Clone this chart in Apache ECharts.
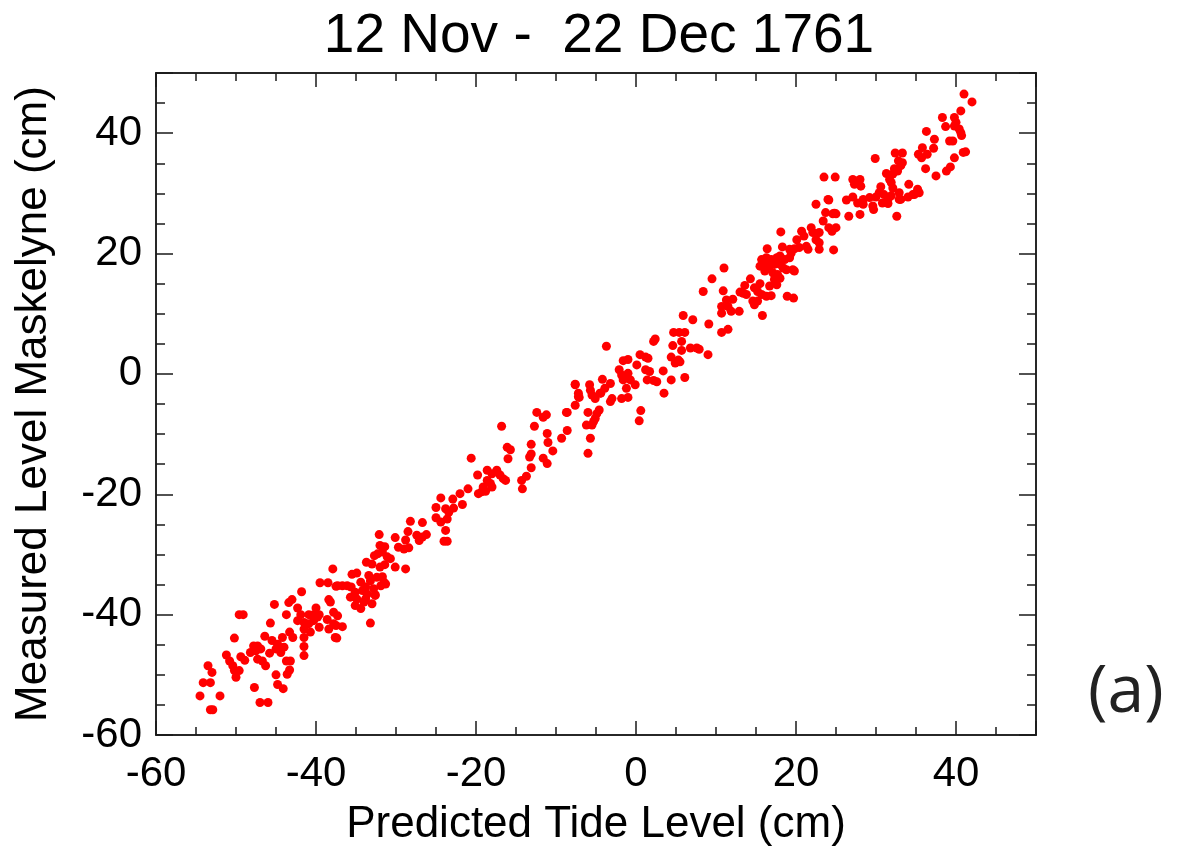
<!DOCTYPE html>
<html>
<head>
<meta charset="utf-8">
<title>12 Nov - 22 Dec 1761</title>
<script src="https://cdn.jsdelivr.net/npm/echarts@6/dist/echarts.min.js"></script>
<style>
  html, body { margin: 0; padding: 0; background: #fff; }
  #chart { width: 1188px; height: 854px; }
</style>
</head>
<body>
<div id="chart"></div>
<script>
// [predicted tide level (cm), measured level Maskelyne (cm)]
const pointsLow = [
  [-54.5,-53.5],[-53.2,-55.8],[-52.9,-55.8],[-54.1,-51.3],[-53.2,-51.3],[-53.5,-48.5],[-53.0,-49.6],[-52.0,-53.5],
  [-51.2,-46.7],[-50.8,-47.7],[-50.4,-48.5],[-50.2,-49.3],[-50.0,-50.4],[-49.6,-49.3],[-50.2,-43.9],[-49.6,-40.0],
  [-49.1,-40.0],[-49.4,-47.0],[-48.9,-47.6],[-47.8,-45.2],[-47.3,-45.2],[-48.2,-46.3],[-47.5,-46.0],[-46.9,-45.7],
  [-47.3,-47.4],[-46.7,-47.7],[-46.3,-48.5],[-47.7,-52.1],[-47.0,-54.6],[-46.0,-54.6],[-46.4,-43.6],[-45.8,-46.4],
  [-45.7,-41.4],[-45.2,-38.3],[-45.5,-44.3],[-44.8,-44.9],[-44.2,-43.8],[-45.0,-45.7],[-44.4,-46.3],[-44.0,-45.4],
  [-45.0,-50.0],[-44.8,-51.6],[-44.1,-52.3],[-43.7,-47.7],[-43.2,-47.7],[-43.3,-49.2],[-43.6,-49.9],[-43.3,-42.9],
  [-42.9,-43.8],[-43.7,-40.0],[-43.0,-37.5],[-43.4,-38.0],[-42.3,-38.9],[-41.8,-36.2],[-42.3,-41.0],[-41.5,-41.3],
  [-40.9,-41.5],[-40.3,-41.0],[-39.8,-40.4],[-41.9,-40.0],[-40.9,-40.0],[-40.3,-40.0],[-39.6,-40.0],[-41.5,-42.4],
  [-40.7,-42.9],[-39.6,-42.1],[-41.5,-43.8],[-41.5,-45.3],[-41.5,-46.8],[-40.0,-38.9]
];

const pointsMidLow = [
  [-39.5,-34.7],[-38.5,-34.7],[-37.5,-35.3],[-38.4,-37.5],[-38.2,-37.9],[-37.8,-39.6],[-37.3,-40.2],[-38.6,-40.8],
  [-37.8,-41.5],[-38.4,-42.4],[-37.5,-41.8],[-37.6,-43.8],[-37.4,-43.9],[-36.7,-42.0],[-37.9,-32.4],[-37.3,-35.2],
  [-36.7,-35.2],[-36.1,-35.2],[-35.6,-35.4],[-35.5,-33.3],[-34.9,-33.1],[-33.4,-33.5],[-32.4,-33.8],[-31.7,-33.7],
  [-34.4,-34.6],[-33.2,-34.4],[-31.5,-34.6],[-33.8,-35.4],[-32.8,-35.7],[-31.9,-35.2],[-35.1,-36.3],[-34.2,-36.0],
  [-33.6,-36.6],[-32.6,-36.7],[-31.3,-34.9],[-35.7,-37.1],[-34.9,-37.4],[-33.8,-37.4],[-33.2,-41.4],[-34.4,-39.0],
  [-35.1,-38.5],[-34.0,-37.9],[-33.0,-38.2],[-32.6,-36.8],[-33.7,-31.3],[-33.0,-31.6],[-32.0,-32.1],[-31.4,-31.7],
  [-30.1,-32.1],[-28.8,-32.4],[-32.7,-30.2],[-32.3,-29.9],[-31.7,-29.6],[-31.1,-30.4],[-30.7,-30.7],[-32.1,-26.7],
  [-32.0,-28.5],[-31.4,-28.7],[-30.1,-27.2],[-29.7,-28.8],[-29.0,-29.1],[-28.4,-28.9],[-28.5,-26.2],[-28.8,-27.6],
  [-27.4,-26.8],[-26.7,-27.1],[-26.2,-26.7],[-27.1,-27.7],[-28.2,-24.5],[-26.7,-24.7],[-25.0,-22.2],[-23.8,-22.4],
  [-23.4,-23.0],[-25.0,-23.9],[-24.4,-24.6],[-23.6,-24.1],[-23.8,-26.0],[-24.0,-27.8],[-23.6,-27.8],[-24.4,-20.6],
  [-22.9,-20.8],[-22.8,-22.3],[-21.7,-21.7]
];

const pointsMid = [
  [-21.0,-19.1],[-22.0,-19.9],[-20.6,-14.0],[-18.6,-16.0],[-17.4,-16.0],[-18.0,-16.6],[-17.0,-16.8],[-16.6,-17.4],
  [-16.3,-17.7],[-19.8,-16.8],[-18.6,-17.7],[-18.2,-18.2],[-19.1,-18.8],[-18.0,-18.8],[-19.3,-19.6],[-19.7,-19.9],
  [-18.8,-19.5],[-16.8,-8.7],[-16.1,-12.2],[-15.7,-12.6],[-16.0,-14.1],[-13.7,-17.0],[-14.3,-17.7],[-14.2,-19.1],
  [-13.1,-11.7],[-13.1,-13.3],[-13.3,-13.8],[-13.1,-15.6],[-12.4,-6.4],[-11.6,-7.2],[-11.2,-6.8],[-12.7,-8.7],
  [-11.1,-9.9],[-11.0,-11.4],[-10.4,-12.8],[-11.6,-14.0],[-11.1,-14.9],[-8.7,-6.4],[-8.6,-6.4],[-8.6,-9.4],
  [-9.3,-10.7],[-7.6,-1.7],[-7.2,-3.2],[-7.2,-3.8],[-7.6,-5.2],[-7.6,-1.8],[-5.8,-1.8],[-5.7,-2.7],
  [-7.1,-3.9],[-5.5,-3.5],[-5.1,-4.1],[-4.5,-3.2],[-6.0,-6.4],[-4.9,-6.6],[-4.6,-6.0],[-5.1,-7.4],
  [-5.3,-7.9],[-6.2,-8.5],[-5.5,-8.5],[-5.7,-10.7],[-6.0,-13.2],[-3.7,4.6],[-4.2,-0.9],[-3.2,-1.6],
  [-3.9,-2.4],[-4.4,-3.2],[-3.0,-4.1],[-3.2,-4.6],[-2.1,0.7],[-1.8,-0.2],[-1.4,-0.4],[-1.0,0.1],
  [-0.7,-1.0],[-1.6,-1.0],[-1.2,-2.4],[-1.0,-3.9],[-1.8,-4.1],[-1.6,2.2],[-1.0,2.4],[-0.1,-1.8]
];

const pointsMidHigh = [
  [0.1,1.5],[0.5,3.2],[1.2,2.8],[1.5,2.6],[1.2,0.7],[1.7,0.4],[1.4,-1.0],[2.2,-1.1],
  [2.6,-1.3],[0.6,-6.1],[0.4,-7.8],[2.4,5.8],[2.2,5.4],[3.4,0.5],[4.4,-1.0],[3.5,-3.2],
  [4.4,2.8],[4.9,1.8],[5.3,2.3],[6.1,-0.6],[5.9,9.7],[7.1,9.0],[4.7,6.9],[5.4,6.9],
  [6.1,6.9],[5.7,5.4],[4.6,4.7],[5.7,3.9],[6.8,4.3],[7.6,4.3],[7.9,4.1],[9.0,3.2],
  [9.1,8.3],[8.4,13.7],[9.5,15.8],[5.5,2.0],[10.7,6.9],[11.5,7.4],[11.0,17.6],[10.9,13.8],
  [11.3,12.3],[12.1,12.4],[11.5,11.2],[10.7,11.2],[11.9,10.4],[10.7,10.1],[12.9,10.4],[13.6,14.7],
  [13.4,13.4],[13.0,13.6],[13.8,13.2],[14.3,15.8],[14.8,14.3],[14.6,12.1],[14.8,11.5],[15.5,15.0],
  [15.2,13.7],[16.7,14.6],[15.2,12.1],[15.7,13.2],[16.3,12.9],[16.9,13.0],[15.8,9.7],[18.9,12.9],
  [19.7,12.6],[15.7,19.0],[16.3,19.3],[16.9,19.0],[17.6,19.3],[18.0,19.6],[18.6,19.0],[19.2,19.3],
  [15.5,17.9],[16.1,18.2],[16.7,17.9],[17.3,18.2],[18.0,18.2],[18.4,17.6],[18.8,17.3],[19.8,17.1],
  [19.6,17.3],[16.1,17.1],[17.1,16.8],[17.7,16.5],[18.0,15.9],[17.3,15.7],[17.6,14.8],[16.4,20.8],
  [18.3,21.1],[19.2,20.7],[19.8,20.8],[20.4,21.0],[19.4,20.1],[18.1,23.6]
];

const pointsHigh = [
  [20.7,23.7],[21.0,22.9],[20.1,22.3],[21.9,24.3],[22.1,23.5],[22.9,23.5],[22.5,22.3],[22.9,21.8],
  [22.9,20.7],[21.3,21.2],[21.5,20.7],[23.5,32.7],[24.9,32.7],[22.5,28.2],[24.1,28.9],[23.7,26.8],
  [24.6,26.6],[25.0,26.6],[23.4,25.4],[24.1,24.3],[24.5,23.7],[25.0,24.3],[24.7,20.6],[24.0,29.0],
  [24.8,26.7],[27.1,32.3],[28.0,32.3],[27.3,31.5],[28.1,31.2],[26.6,26.2],[28.0,26.5],[26.3,28.9],
  [27.1,29.4],[27.7,28.4],[28.4,28.2],[28.4,29.0],[29.2,29.3],[30.0,29.4],[29.6,27.9],[29.7,27.3],
  [29.9,35.8],[30.6,31.1],[30.4,30.1],[31.0,29.8],[31.5,29.0],[31.9,29.6],[32.9,29.0],[34.0,29.4],
  [34.6,29.8],[30.8,28.4],[31.5,28.3],[32.6,26.2],[32.4,36.7],[33.3,36.7],[32.8,35.4],[33.3,35.1],
  [33.1,34.6],[32.3,34.1],[32.7,33.7],[32.1,33.2],[31.3,33.3],[31.7,32.3],[31.9,31.8],[32.1,30.9],
  [34.1,31.5],[35.2,30.7],[34.8,29.8],[35.4,30.1],[32.9,30.1],[33.1,29.0],[36.3,40.3],[37.3,39.0],
  [37.2,37.5],[35.8,37.6],[35.3,36.5],[36.4,36.5],[35.7,35.9],[36.2,34.1],[37.5,32.9],[38.8,33.7],
  [39.3,34.4],[39.8,35.9],[40.9,36.8],[41.2,36.9],[38.3,42.6],[38.7,41.1],[39.8,41.2],[40.4,40.7],
  [40.7,39.6],[40.6,40.1],[39.6,38.7],[39.2,38.7],[40.6,43.7],[39.8,42.6],[40.0,41.8],[41.0,46.5],
  [42.0,45.2]
];

const xRange = [-60, 50]
const yRange = [-60, 50]

const tideData = [].concat(pointsLow, pointsMidLow, pointsMid, pointsMidHigh, pointsHigh)

const chart = echarts.init(document.getElementById('chart'))

const font = 'Liberation Sans, Arial, sans-serif'
const lineColor = '#1a1a1a'
const gridBox = { left: 156, right: 152, top: 73, bottom: 119, outerBoundsMode: 'none' }

// labels only on the 20 cm steps
const every20 = v => (Math.abs(v % 20) < 1e-6 ? String(v) : '')

const axisBase = (range, interval, tickLen) => ({
  type: 'value',
  min: range[0],
  max: range[1],
  interval: interval,
  axisLine: { show: true, onZero: false, lineStyle: { color: lineColor, width: 1.5 } },
  axisTick: { show: true, inside: true, length: tickLen, lineStyle: { color: lineColor, width: 1.5 } },
  axisLabel: { show: false },
  splitLine: { show: false }
})

const option = {
  animation: false,
  backgroundColor: '#fff',
  title: {
    text: '12 Nov -  22 Dec 1761',
    left: 594,
    top: 4,
    textAlign: 'center',
    textStyle: { fontFamily: font, fontSize: 55, fontWeight: 'normal', color: '#000' }
  },
  grid: [gridBox, gridBox],
  xAxis: [
    {
      ...axisBase(xRange, 20, 14),
      gridIndex: 0,
      position: 'bottom',
      name: 'Predicted Tide Level (cm)',
      nameLocation: 'middle',
      nameGap: 68,
      nameTextStyle: { fontFamily: font, fontSize: 44, color: '#000' },
      axisLabel: { show: true, margin: 18, formatter: every20, fontFamily: font, fontSize: 42, color: '#000' }
    },
    { ...axisBase(xRange, 20, 14), gridIndex: 0, position: 'top' },
    { ...axisBase(xRange, 5, 8), gridIndex: 1, position: 'bottom' },
    { ...axisBase(xRange, 5, 8), gridIndex: 1, position: 'top' }
  ],
  yAxis: [
    {
      ...axisBase(yRange, 20, 17),
      gridIndex: 0,
      position: 'left',
      name: 'Measured Level Maskelyne (cm)',
      nameLocation: 'middle',
      nameGap: 100,
      nameTextStyle: { fontFamily: font, fontSize: 44, color: '#000' },
      axisLabel: { show: true, margin: 14, formatter: every20, fontFamily: font, fontSize: 42, color: '#000' }
    },
    { ...axisBase(yRange, 20, 17), gridIndex: 0, position: 'right' },
    { ...axisBase(yRange, 5, 9), gridIndex: 1, position: 'left' },
    { ...axisBase(yRange, 5, 9), gridIndex: 1, position: 'right' }
  ],
  graphic: [{
    type: 'text',
    left: 1088,
    top: 660,
    style: { text: '(a)', fontFamily: 'Open Sans, Noto Sans, sans-serif', fontSize: 66, fill: '#222' }
  }],
  series: [{
    type: 'scatter',
    xAxisIndex: 0,
    yAxisIndex: 0,
    symbol: 'circle',
    symbolSize: 9,
    itemStyle: { color: '#ff0000', opacity: 1 },
    silent: true,
    data: tideData
  }]
}

chart.setOption(option)
window.addEventListener('resize', () => chart.resize())
</script>
</body>
</html>
